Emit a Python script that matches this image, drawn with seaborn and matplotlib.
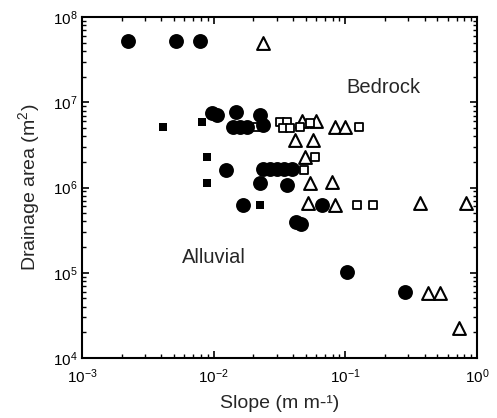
import matplotlib
matplotlib.use("Agg")
import matplotlib.pyplot as plt
import seaborn as sns
import pandas as pd
from matplotlib.ticker import LogLocator, NullFormatter

# Alluvial, filled circles
circ_slope = [0.00223, 0.00518, 0.00787, 0.0097, 0.0106, 0.0148, 0.0140, 0.0158, 0.0179,
              0.0225, 0.0237, 0.0124, 0.0237, 0.0268, 0.0303, 0.0342, 0.0394, 0.0225,
              0.0361, 0.0167, 0.0665, 0.0422, 0.046, 0.103, 0.284]
circ_area = [5.2e7, 5.2e7, 5.2e7, 7.5e6, 7.1e6, 7.7e6, 5.1e6, 5.1e6, 5.1e6,
             7.1e6, 5.4e6, 1.6e6, 1.65e6, 1.65e6, 1.65e6, 1.65e6, 1.65e6, 1.13e6,
             1.07e6, 6.2e5, 6.2e5, 3.94e5, 3.73e5, 1.02e5, 5.9e4]

# filled squares
fsq_slope = [0.00412, 0.00815, 0.0089, 0.0089, 0.0225]
fsq_area = [5.1e6, 5.9e6, 2.28e6, 1.13e6, 6.2e5]

# open squares
osq_slope = [0.0213, 0.0319, 0.0361, 0.0337, 0.038, 0.0453, 0.054, 0.127,
             0.0588, 0.0485, 0.0361, 0.1227, 0.162]
osq_area = [5.1e6, 5.9e6, 5.9e6, 5.0e6, 5.0e6, 5.1e6, 5.7e6, 5.1e6,
            2.28e6, 1.6e6, 1.07e6, 6.2e5, 6.2e5]

# open triangles
tri_slope = [0.0237, 0.0469, 0.0598, 0.0834, 0.0993, 0.0415, 0.0567, 0.0494,
             0.054, 0.0793, 0.052, 0.0834, 0.369, 0.825, 0.425, 0.524, 0.73]
tri_area = [4.96e7, 6.0e6, 6.0e6, 5.1e6, 5.1e6, 3.6e6, 3.6e6, 2.28e6,
            1.13e6, 1.16e6, 6.6e5, 6.2e5, 6.6e5, 6.6e5, 5.8e4, 5.8e4, 2.25e4]

sns.set_style("ticks")
plt.rcParams['font.family'] = ['Liberation Sans', 'DejaVu Sans']
plt.rcParams['mathtext.fontset'] = 'custom'
plt.rcParams['mathtext.rm'] = 'Liberation Sans'
plt.rcParams['mathtext.it'] = 'Liberation Sans'

fig = plt.figure(figsize=(4.97, 4.18), dpi=100)
ax = fig.add_axes([0.165, 0.1435, 0.795, 0.8155])

df_c = pd.DataFrame({"slope": circ_slope, "area": circ_area})
df_fs = pd.DataFrame({"slope": fsq_slope, "area": fsq_area})
df_os = pd.DataFrame({"slope": osq_slope, "area": osq_area})
df_t = pd.DataFrame({"slope": tri_slope, "area": tri_area})

sns.scatterplot(data=df_t, x="slope", y="area", marker="^", s=85, facecolor="white",
                edgecolor="black", linewidth=1.5, ax=ax, zorder=3)
sns.scatterplot(data=df_os, x="slope", y="area", marker="s", s=30, facecolor="white",
                edgecolor="black", linewidth=1.3, ax=ax, zorder=4)
sns.scatterplot(data=df_c, x="slope", y="area", marker="o", s=115, color="black",
                edgecolor="black", linewidth=0, ax=ax, zorder=5)
sns.scatterplot(data=df_fs, x="slope", y="area", marker="s", s=34, color="black",
                edgecolor="black", linewidth=0, ax=ax, zorder=5)

ax.set_xscale("log")
ax.set_yscale("log")
ax.set_xlim(1e-3, 1)
ax.set_ylim(1e4, 1e8)

ax.xaxis.set_major_locator(LogLocator(base=10, numticks=10))
ax.xaxis.set_minor_locator(LogLocator(base=10, subs=range(2, 10), numticks=10))
ax.yaxis.set_major_locator(LogLocator(base=10, numticks=10))
ax.yaxis.set_minor_locator(LogLocator(base=10, subs=range(2, 10), numticks=10))
ax.xaxis.set_minor_formatter(NullFormatter())
ax.yaxis.set_minor_formatter(NullFormatter())

ax.tick_params(which="both", direction="in", top=True, right=True, colors="black",
               labelsize=11)
ax.tick_params(axis="x", which="major", pad=7)
ax.tick_params(axis="y", which="major", pad=3)
ax.tick_params(which="major", length=5, width=1.2)
ax.tick_params(which="minor", length=3, width=1)
for sp in ax.spines.values():
    sp.set_visible(True)
    sp.set_linewidth(1.5)
    sp.set_color("black")

ax.set_xlabel("Slope (m m-\u00b9)", fontsize=14, labelpad=6)
ax.set_ylabel("Drainage area (m$^{2}$)", fontsize=14, labelpad=8)

ax.text(0.193, 1.51e7, "Bedrock", fontsize=14.5, ha="center", va="center")
ax.text(0.0101, 1.53e5, "Alluvial", fontsize=14.5, ha="center", va="center")

fig.savefig("out.png", dpi=100)
